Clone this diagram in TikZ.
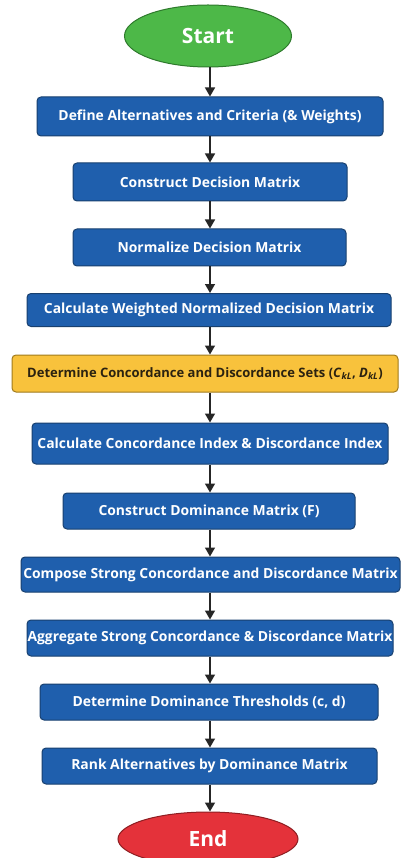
\documentclass[tikz,border=0pt]{standalone}
\usepackage{fontspec}
\setmainfont{Open Sans}
\usetikzlibrary{shapes.geometric,arrows.meta}
\definecolor{boxblue}{HTML}{1F5FAD}
\definecolor{boxedge}{HTML}{18406F}
\definecolor{startgreen}{HTML}{4DB848}
\definecolor{startedge}{HTML}{2E7A2C}
\definecolor{endred}{HTML}{E4323A}
\definecolor{endedge}{HTML}{8E1E22}
\definecolor{stepyellow}{HTML}{F8C23C}
\definecolor{yellowedge}{HTML}{A07A1C}
\definecolor{yellowtext}{HTML}{2B2210}
\tikzset{
  stepbox/.style={rectangle, rounded corners=4pt, fill=boxblue, draw=boxedge,
    line width=1pt, text=white, font=\bfseries\fontsize{13.9}{16}\selectfont,
    inner sep=0pt, align=center},
  yellowbox/.style={stepbox, fill=stepyellow, draw=yellowedge, text=yellowtext,
    font=\bfseries\fontsize{13}{15}\selectfont},
  terminal/.style={ellipse, inner sep=0pt, line width=1pt, text=white,
    font=\bfseries\fontsize{21}{24}\selectfont},
  flow/.style={line width=1.4pt, draw=black!85,
    -{Triangle[width=10pt,length=9pt]}}
}
\begin{document}
\begin{tikzpicture}[x=1pt,y=-1pt]
\useasboundingbox[fill=white] (0,0) rectangle (400,858);
\node[terminal, fill=startgreen, draw=startedge, minimum width=167pt, minimum height=62pt] (start) at (208,36) {Start};
\node[stepbox, minimum width=346pt, minimum height=39pt] (b1) at (210,116.5) {Define Alternatives and Criteria (\& Weights)};
\node[stepbox, minimum width=274pt, minimum height=38pt] (b2) at (210,182) {Construct Decision Matrix};
\node[stepbox, minimum width=273pt, minimum height=37pt] (b3) at (209.5,247.5) {Normalize Decision Matrix};
\node[stepbox, minimum width=364pt, minimum height=33pt] (b4) at (209,310) {Calculate Weighted Normalized Decision Matrix};
\node[yellowbox, minimum width=386pt, minimum height=37pt] (b5) at (205,373.5) {Determine Concordance and Discordance Sets (\textit{C}\textsubscript{\textit{kL}}, \textit{D}\textsubscript{\textit{kL}})};
\node[stepbox, minimum width=356pt, minimum height=41pt] (b6) at (210,443.5) {Calculate Concordance Index \& Discordance Index};
\node[stepbox, minimum width=292pt, minimum height=36pt] (b7) at (209,511) {Construct Dominance Matrix (F)};
\node[stepbox, minimum width=379pt, minimum height=35pt] (b8) at (210.5,574.5) {Compose Strong Concordance and Discordance Matrix};
\node[stepbox, minimum width=366pt, minimum height=36pt] (b9) at (210,638) {Aggregate Strong Concordance \& Discordance Matrix};
\node[stepbox, minimum width=338pt, minimum height=36pt] (b10) at (209,702) {Determine Dominance Thresholds (c, d)};
\node[stepbox, minimum width=335pt, minimum height=36pt] (b11) at (209.5,766) {Rank Alternatives by Dominance Matrix};
\node[terminal, fill=endred, draw=endedge, minimum width=180pt, minimum height=54pt] (end) at (208,839) {End};
\foreach \a/\b in {start/b1,b1/b2,b2/b3,b3/b4,b4/b5,b5/b6,b6/b7,b7/b8,b8/b9,b9/b10,b10/b11,b11/end}{
  \draw[flow] (\a.south -| 210,0) -- (\b.north -| 210,0);
}
\end{tikzpicture}
\end{document}
